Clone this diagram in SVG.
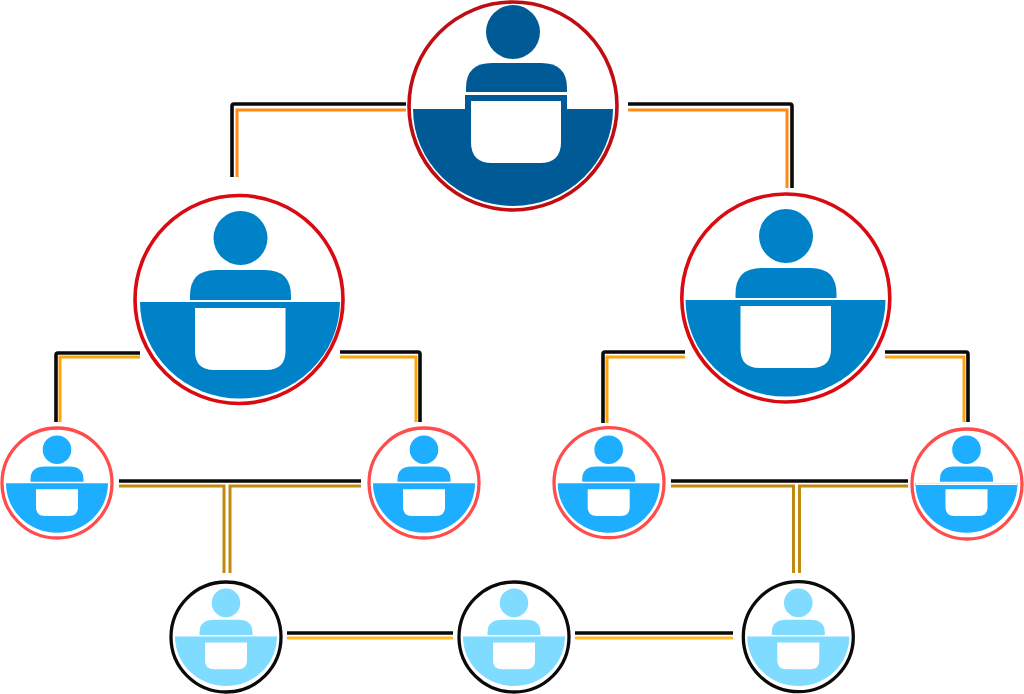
<svg xmlns="http://www.w3.org/2000/svg" width="1024" height="694" viewBox="0 0 1024 694">
<style>
.k{fill:none;stroke:#0a0a0a;stroke-width:3.600;stroke-linejoin:round}
.o{fill:none;stroke:#ff8a14;stroke-width:3}
.y{fill:none;stroke:#ffa30d;stroke-width:3}
.g{fill:none;stroke:#c08a10;stroke-width:3}
.r{fill:none;stroke:#ffba24;stroke-width:3}
.t{fill:#fff;stroke:#c00d12;stroke-width:3.600}
.m{fill:#fff;stroke:#d90a12;stroke-width:3.600}
.s{fill:#fff;stroke:#ff4d4d;stroke-width:3.300}
.b{fill:#fff;stroke:#0a0a0a;stroke-width:3.300}
.hole{fill:#fff}
</style>
<defs>
<g id="bigIcon">
<circle cx="0.500" cy="-62" r="27"/>
<path d="M-50,0V-4Q-50,-30-24,-30H25Q51,-30 51,-4V0Z"/>
<path d="M-100,2H100A100,96.500 0 0 1 -100,2Z"/>
<path class="hole" d="M-45,8H45.500V51Q45.500,70 26,70H-26Q-45,70-45,51Z"/>
</g>
<g id="smallIcon">
<circle cy="-33.600" r="14.300"/>
<path d="M-26.500,-1.500V-4Q-26.500,-16.700-12,-16.700H12Q26.500,-16.700 26.500,-4V-1.500Z"/>
<path d="M-51,0H51A51,49.500 0 0 1 -51,0Z"/>
<path class="hole" d="M-21,6H21V24Q21,32.700 12,32.700H-12Q-21,32.700-21,24Z"/>
</g>
</defs>
<g id="connectors">
<path class="k" d="M232,177V106Q232,104 234,104H406"/>
<path class="o" d="M237,177V110H406"/>
<path class="k" d="M628,104H790Q792,104 792,106V188"/>
<path class="o" d="M628,110H787V188"/>
<path class="k" d="M140,353H58Q56,353 56,355V422"/>
<path class="y" d="M140,357H60V422"/>
<path class="k" d="M340,352H418Q420,352 420,354V422"/>
<path class="y" d="M340,357H416V422"/>
<path class="k" d="M685,352H605Q603,352 603,354V423"/>
<path class="y" d="M685,357H607V423"/>
<path class="k" d="M885,352H966Q968,352 968,354V422"/>
<path class="y" d="M885,357H964V422"/>
<path class="k" d="M119,481H361"/>
<path class="g" d="M119,486H224V573"/>
<path class="g" d="M361,486H230V573"/>
<path class="k" d="M671,481H908"/>
<path class="g" d="M671,486H793.500V573"/>
<path class="g" d="M908,486H799.500V573"/>
<path class="k" d="M287,633H453"/>
<path class="r" d="M287,638H453"/>
<path class="k" d="M575,633H733"/>
<path class="r" d="M575,638H733"/>
</g>
<g id="node-top">
<circle class="t" cx="513" cy="106" r="104"/>
<g fill="#005a96">
<circle cx="513" cy="32" r="27"/>
<path d="M466,92V88Q466,63 492,63H541Q567,63 567,88V92Z"/>
<path d="M413,109H465V95H567V109H613A100,97 0 0 1 413,109Z"/>
</g>
<path class="hole" d="M471,101H561V142Q561,163 540,163H492Q471,163 471,142Z"/>
</g>
<g id="node-mid-left" fill="#0082c8">
<circle class="m" cx="239" cy="299.500" r="104"/>
<use href="#bigIcon" x="240" y="300"/>
</g>
<g id="node-mid-right" fill="#0082c8">
<circle class="m" cx="785.800" cy="298" r="104"/>
<use href="#bigIcon" x="785.500" y="298"/>
</g>
<g id="node-l1" fill="#1eaeff"><circle class="s" cx="57" cy="483" r="55"/><use href="#smallIcon" x="57" y="483.300"/></g>
<g id="node-l2" fill="#1eaeff"><circle class="s" cx="424" cy="483" r="55"/><use href="#smallIcon" x="424" y="483.300"/></g>
<g id="node-l3" fill="#1eaeff"><circle class="s" cx="609" cy="482.700" r="55"/><use href="#smallIcon" x="608.700" y="483.300"/></g>
<g id="node-l4" fill="#1eaeff"><circle class="s" cx="967" cy="484" r="55"/><use href="#smallIcon" x="966.500" y="483.300"/><path d="M916,483.300H1017V485H916Z" fill="#fff"/></g>
<g id="node-b1" fill="#7fdbff"><circle class="b" cx="226" cy="637" r="55"/><use href="#smallIcon" x="226" y="636.500"/></g>
<g id="node-b2" fill="#7fdbff"><circle class="b" cx="514" cy="637" r="55"/><use href="#smallIcon" x="514" y="636.500"/></g>
<g id="node-b3" fill="#7fdbff"><circle class="b" cx="798.300" cy="636.700" r="55"/><use href="#smallIcon" x="798.300" y="636.500"/></g>
</svg>
